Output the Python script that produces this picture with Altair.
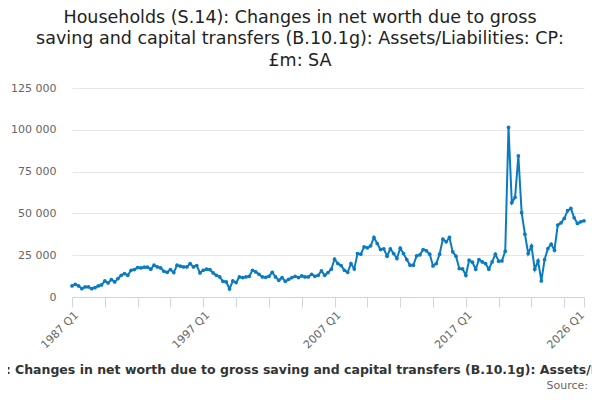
import altair as alt
import pandas as pd

COLOR = "#0a7bc2"

quarters = [f"{y} Q{q}" for y in range(1987, 2026) for q in range(1, 5)] + ["2026 Q1"]

values = [
    6600, 7600, 6600, 5000, 6000, 6000, 5000, 5600, 6600, 7200,
    9600, 8400, 10400, 9000, 11000, 13000, 14000, 13000, 16000, 16400,
    17600, 17400, 17800, 17800, 16600, 19000, 18000, 17400, 15400, 14800,
    16400, 14600, 19000, 18400, 18000, 18000, 20000, 18000, 18800, 14400,
    16000, 16600, 16400, 14400, 13000, 12000, 9400, 9000, 4800, 9600,
    8600, 12000, 11600, 12000, 12400, 16000, 15000, 13600, 12000, 11800,
    12400, 14800, 12000, 10000, 11600, 9400, 10600, 11600, 12400, 11600,
    12600, 12000, 12000, 13600, 12400, 13000, 15600, 13000, 14600, 16600,
    22600, 20000, 18800, 16000, 14800, 20000, 16800, 26000, 25600, 30000,
    29400, 30600, 35600, 32000, 28400, 28800, 24400, 28800, 26000, 23000,
    29200, 26000, 22400, 19000, 19000, 24600, 25200, 28400, 27600, 25600,
    18600, 20000, 25600, 34600, 33000, 35600, 27000, 24400, 17000, 16800,
    13000, 22000, 20800, 16600, 22400, 21000, 20000, 16600, 21000, 25600,
    21400, 21600, 27400, 101400, 56400, 59600, 84400, 50400, 37600, 26000,
    30400, 16600, 21600, 9600, 22400, 29000, 31600, 28000, 43000, 44400,
    47000, 51600, 53000, 47400, 44000, 45000, 45600,
]

tick_quarters = quarters[::10] + ["2026 Q1"]
label_quarters = ["1987 Q1", "1997 Q1", "2007 Q1", "2017 Q1", "2026 Q1"]
y_ticks = [0, 25000, 50000, 75000, 100000, 125000]

title_lines = [
    "Households (S.14): Changes in net worth due to gross",
    "saving and capital transfers (B.10.1g): Assets/Liabilities: CP:",
    "£m: SA",
]
series_name = ("Households (S.14): Changes in net worth due to gross saving and "
               "capital transfers (B.10.1g): Assets/Liabilities: CP: £m: SA")

df = pd.DataFrame({"quarter": quarters, "value": values})

label_list = "[" + ",".join(f"'{q}'" for q in label_quarters) + "]"

line = alt.Chart(df).mark_line(
    color=COLOR, strokeWidth=2,
    point=alt.OverlayMarkDef(filled=True, size=14, color=COLOR),
).encode(
    x=alt.X(
        "quarter:O", sort=None,
        scale=alt.Scale(type="point", padding=0),
        axis=alt.Axis(
            values=tick_quarters,
            labelExpr=f"indexof({label_list}, datum.value) >= 0 ? datum.value : ''",
            labelAngle=-45, labelAlign="right", labelBaseline="top",
            labelFontSize=11, labelFont="DejaVu Sans", labelColor="#666666",
            labelPadding=2, labelOverlap=False,
            labelOffset={"condition": {"test": "datum.value == '2026 Q1'", "value": -6}, "value": 0},
            tickColor="#ccd6eb", tickSize=10, domainColor="#ccd6eb", grid=False,
            title=series_name, titleX=239, titleY=72, titleAlign="center",
            titleBaseline="middle", titleFontSize=12.5, titleFontWeight="bold",
            titleFont="DejaVu Sans", titleColor="#333333", titleLimit=3000,
        ),
    ),
    y=alt.Y(
        "value:Q",
        scale=alt.Scale(domain=[0, 125000], nice=False),
        axis=alt.Axis(
            values=y_ticks,
            labelExpr="replace(format(datum.value, ','), ',', ' ')",
            grid=True, gridColor="#e6e6e6", domain=False, ticks=False,
            labelAlign="right", labelBaseline="middle",
            labelPadding=16, labelFontSize=11, labelFont="DejaVu Sans",
            labelColor="#666666", title=None,
        ),
    ),
)

src = alt.Chart(pd.DataFrame({"t": ["Source:"]})).mark_text(
    align="right", baseline="middle", fontSize=11, color="#666666", font="DejaVu Sans"
).encode(text="t:N", x=alt.value(516), y=alt.value(298))

chart = alt.layer(line, src).properties(
    width=512, height=209,
    autosize=alt.AutoSizeParams(type="none"),
    padding={"left": 64, "top": 80, "right": 8, "bottom": 95},
    title=alt.TitleParams(
        text=title_lines, fontSize=17.5, font="DejaVu Sans", fontWeight="normal",
        color="#222222", anchor="middle", dx=-28, dy=-9, lineHeight=21.5,
    ),
).configure_view(stroke=None)

chart.save("out.html", embed_options={"renderer": "svg", "actions": False})
